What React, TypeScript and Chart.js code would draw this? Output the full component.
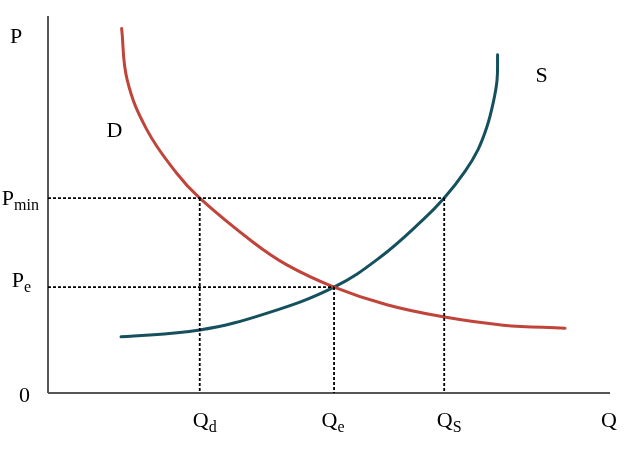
import React, { useEffect, useRef } from "react";
import { Chart, registerables } from "chart.js";

Chart.register(...registerables);

// (Q and P in arbitrary units, axes span 0..10)
const demandQ = [1.31, 1.41, 1.76, 2.29, 2.7, 3.65, 4.25, 5.09, 6.03, 7.03, 8.1, 9.2];
const demandP = [9.67, 8.3, 6.98, 5.83, 5.17, 4.0, 3.4, 2.81, 2.34, 2.02, 1.8, 1.72];
const supplyQ = [1.3, 2.7, 3.9, 5.09, 5.91, 6.67, 7.05, 7.42, 7.65, 7.81, 7.92, 7.99, 8.0];
const supplyP = [1.49, 1.67, 2.12, 2.81, 3.6, 4.59, 5.17, 5.88, 6.45, 7.06, 7.69, 8.3, 8.97];

const Qd = 2.7;
const Qe = 5.09;
const Qs = 7.05;
const Pmin = 5.17;
const Pe = 2.81;
const axisMax = 10;

const RED = "#c0443a";
const TEAL = "#15505f";
const AXIS = "#555555";
const FONT = "'Liberation Serif', 'Times New Roman', serif";

const zip = (xs: number[], ys: number[]) => xs.map((x, i) => ({ x, y: ys[i] }));

const labelPlugin = {
  id: "econLabels",
  afterDatasetsDraw(chart: any) {
    const ctx = chart.ctx as CanvasRenderingContext2D;
    const xs = chart.scales.x;
    const ys = chart.scales.y;
    const ca = chart.chartArea;
    ctx.save();
    ctx.fillStyle = "#000";
    ctx.textBaseline = "alphabetic";
    const big = `22px ${FONT}`;
    const small = `16px ${FONT}`;
    const withSub = (main: string, sub: string, x: number, y: number, align: "left" | "center" | "right") => {
      ctx.font = big;
      const w1 = ctx.measureText(main).width;
      ctx.font = small;
      const w2 = ctx.measureText(sub).width;
      const total = w1 + w2;
      let left = x;
      if (align === "center") left = x - total / 2;
      if (align === "right") left = x - total;
      ctx.textAlign = "left";
      ctx.font = big;
      ctx.fillText(main, left, y);
      ctx.font = small;
      ctx.fillText(sub, left + w1, y + 5);
    };
    ctx.font = big;
    ctx.textAlign = "left";
    ctx.fillText("P", ca.left - 38, ca.top + 27);
    ctx.fillText("Q", ca.right - 9, ca.bottom + 34);
    ctx.fillText("0", ca.left - 29, ca.bottom + 9);
    ctx.fillText("D", xs.getPixelForValue(demandQ[0]) - 15, ys.getPixelForValue(demandP[0]) + 109);
    ctx.fillText("S", xs.getPixelForValue(supplyQ[supplyQ.length - 1]) + 38, ys.getPixelForValue(supplyP[supplyP.length - 1]) + 27);
    withSub("P", "min", ca.left - 9, ys.getPixelForValue(Pmin) + 7, "right");
    withSub("P", "e", ca.left - 17, ys.getPixelForValue(Pe) + 0, "right");
    withSub("Q", "d", xs.getPixelForValue(Qd) + 5, ca.bottom + 34, "center");
    withSub("Q", "e", xs.getPixelForValue(Qe) - 1, ca.bottom + 34, "center");
    withSub("Q", "S", xs.getPixelForValue(Qs) + 5, ca.bottom + 34, "center");
    ctx.restore();
  },
};

export default function App() {
  const ref = useRef<HTMLCanvasElement | null>(null);
  useEffect(() => {
    if (!ref.current) return;
    const dotted = {
      borderColor: "#000",
      borderWidth: 1.8,
      borderDash: [3, 2],
      pointRadius: 0,
      showLine: true,
      fill: false,
      tension: 0,
    };
    const chart = new Chart(ref.current, {
      type: "scatter",
      data: {
        datasets: [
          { ...dotted, data: [{ x: 0, y: Pmin }, { x: Qs, y: Pmin }] },
          { ...dotted, data: [{ x: 0, y: Pe }, { x: Qe, y: Pe }] },
          { ...dotted, data: [{ x: Qd, y: Pmin }, { x: Qd, y: 0 }] },
          { ...dotted, data: [{ x: Qe, y: Pe }, { x: Qe, y: 0 }] },
          { ...dotted, data: [{ x: Qs, y: Pmin }, { x: Qs, y: 0 }] },
          {
            data: [{ x: 0, y: 0 }, { x: 0, y: axisMax }],
            borderColor: AXIS, borderWidth: 2, pointRadius: 0, showLine: true,
          },
          {
            data: [{ x: 0, y: 0 }, { x: axisMax, y: 0 }],
            borderColor: AXIS, borderWidth: 2, pointRadius: 0, showLine: true,
          },
          {
            data: zip(demandQ, demandP),
            borderColor: RED, borderWidth: 3, pointRadius: 0, showLine: true,
            tension: 0.4, borderCapStyle: "round",
          },
          {
            data: zip(supplyQ, supplyP),
            borderColor: TEAL, borderWidth: 3, pointRadius: 0, showLine: true,
            tension: 0.4, borderCapStyle: "round",
          },
        ] as any,
      },
      options: {
        animation: false,
        responsive: false,
        maintainAspectRatio: false,
        layout: { padding: { left: 48, right: 14, top: 16, bottom: 60 } },
        plugins: { legend: { display: false }, tooltip: { enabled: false } },
        elements: { line: { borderJoinStyle: "round" } },
        datasets: { scatter: { clip: false } } as any,
        scales: {
          x: { type: "linear", min: 0, max: axisMax, display: false },
          y: { type: "linear", min: 0, max: axisMax, display: false },
        },
      },
      plugins: [labelPlugin],
    });
    return () => chart.destroy();
  }, []);
  return (
    <div style={{ position: "fixed", left: 0, top: 0, width: 624, height: 453, background: "#fff" }}>
      <canvas ref={ref} width={624} height={453} style={{ width: 624, height: 453 }} />
    </div>
  );
}
